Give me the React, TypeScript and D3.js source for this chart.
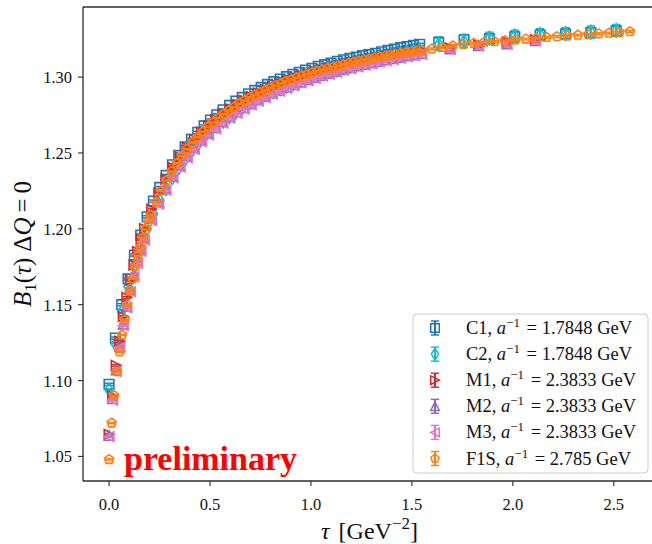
import React from 'react';
import * as d3 from 'd3';

const W = 652;
const H = 544;

const X_TICKS = [0, 0.5, 1.0, 1.5, 2.0, 2.5];
const Y_TICKS = [1.05, 1.1, 1.15, 1.2, 1.25, 1.3];

const SERIES_NAMES = ['C1', 'C2', 'M1', 'M2', 'M3', 'F1S'];
const INV_SPACING = ['1.7848', '1.7848', '2.3833', '2.3833', '2.3833', '2.785'];

const C_TAU = [0, 0.0314, 0.0628, 0.0942, 0.1256, 0.157, 0.1884, 0.2198, 0.2512, 0.2826, 0.314, 0.3454, 0.3768, 0.4082, 0.4396, 0.471, 0.5024, 0.5338, 0.5652, 0.5966, 0.628, 0.6594, 0.6908, 0.7222, 0.7536, 0.785, 0.8164, 0.8478, 0.8792, 0.9106, 0.942, 0.9734, 1.0048, 1.0362, 1.0676, 1.099, 1.1304, 1.1618, 1.1932, 1.2246, 1.256, 1.2874, 1.3188, 1.3502, 1.3816, 1.413, 1.4444, 1.4758, 1.5072, 1.5386, 1.6328, 1.7584, 1.884, 2.0096, 2.1352, 2.2608, 2.3864, 2.512];

const C1_VAL = [1.0975, 1.128, 1.150, 1.167, 1.1827, 1.1959, 1.2079, 1.2183, 1.2273, 1.2352, 1.2422, 1.2484, 1.2541, 1.259, 1.2636, 1.2678, 1.2717, 1.2752, 1.2784, 1.2813, 1.2841, 1.2866, 1.289, 1.2912, 1.2932, 1.2952, 1.297, 1.2987, 1.3003, 1.3018, 1.3032, 1.3046, 1.3058, 1.3071, 1.3082, 1.3093, 1.3104, 1.3114, 1.3123, 1.3132, 1.3141, 1.3149, 1.3157, 1.3167, 1.3176, 1.3185, 1.3194, 1.3201, 1.3209, 1.3216, 1.3229, 1.3246, 1.3252, 1.3266, 1.3277, 1.3284, 1.3294, 1.3304];

const C2_VAL = [1.094, 1.124, 1.1455, 1.162, 1.1757, 1.1879, 1.1999, 1.2098, 1.2188, 1.2265, 1.2337, 1.2401, 1.2459, 1.251, 1.2556, 1.26, 1.2641, 1.2677, 1.271, 1.274, 1.2769, 1.2796, 1.282, 1.2844, 1.2865, 1.2886, 1.2905, 1.2923, 1.294, 1.2956, 1.2972, 1.2986, 1.3, 1.3014, 1.3026, 1.3038, 1.305, 1.3062, 1.3073, 1.3084, 1.3095, 1.3105, 1.3115, 1.3125, 1.3135, 1.3144, 1.3153, 1.3161, 1.3169, 1.3178, 1.3215, 1.3235, 1.3256, 1.327, 1.328, 1.3287, 1.3297, 1.3307];

const M_TAU = [0, 0.0176, 0.0352, 0.0528, 0.0704, 0.088, 0.1056, 0.1232, 0.1408, 0.1584, 0.176, 0.2112, 0.2464, 0.2816, 0.3168, 0.352, 0.3872, 0.4224, 0.4576, 0.4928, 0.528, 0.5632, 0.5984, 0.6336, 0.6688, 0.704, 0.7392, 0.7744, 0.8096, 0.8448, 0.88, 0.9152, 0.9504, 0.9856, 1.0208, 1.056, 1.0912, 1.1264, 1.1616, 1.1968, 1.232, 1.2672, 1.3024, 1.3376, 1.3728, 1.408, 1.4432, 1.4784, 1.5136, 1.5488, 1.6896, 1.8304, 1.9712, 2.112];

const M1_VAL = [1.0645, 1.09, 1.11, 1.126, 1.1422, 1.1549, 1.1662, 1.1761, 1.185, 1.193, 1.2002, 1.213, 1.2237, 1.2328, 1.2405, 1.2474, 1.2536, 1.2589, 1.2638, 1.2681, 1.272, 1.2757, 1.279, 1.2819, 1.2847, 1.2873, 1.2896, 1.2918, 1.2939, 1.2958, 1.2975, 1.2992, 1.3008, 1.3022, 1.3036, 1.3048, 1.306, 1.3071, 1.3083, 1.3093, 1.3103, 1.3112, 1.3121, 1.313, 1.3139, 1.3147, 1.3154, 1.3161, 1.3168, 1.3175, 1.3193, 1.3213, 1.3232, 1.3248];

const M2_VAL = [1.0638, 1.088, 1.107, 1.1225, 1.1372, 1.1489, 1.1602, 1.1701, 1.179, 1.187, 1.1942, 1.207, 1.2177, 1.2269, 1.2348, 1.2419, 1.2481, 1.2536, 1.2586, 1.263, 1.267, 1.2707, 1.274, 1.277, 1.2798, 1.2824, 1.2849, 1.2872, 1.2894, 1.2914, 1.2933, 1.295, 1.2967, 1.2983, 1.2998, 1.3012, 1.3025, 1.3038, 1.3051, 1.3062, 1.3073, 1.3084, 1.3093, 1.3103, 1.3113, 1.3122, 1.313, 1.3139, 1.3147, 1.3155, 1.3186, 1.3207, 1.3219, 1.324];

const M3_VAL = [1.063, 1.087, 1.106, 1.1215, 1.1362, 1.1479, 1.1587, 1.1683, 1.1772, 1.1852, 1.1925, 1.2054, 1.2162, 1.2255, 1.2335, 1.2406, 1.2468, 1.2524, 1.2574, 1.2619, 1.2659, 1.2697, 1.273, 1.2761, 1.279, 1.2817, 1.2842, 1.2865, 1.2887, 1.2907, 1.2926, 1.2944, 1.2961, 1.2977, 1.2992, 1.3006, 1.3019, 1.3032, 1.3045, 1.3056, 1.3067, 1.3078, 1.3088, 1.3098, 1.3108, 1.3117, 1.3125, 1.3134, 1.3142, 1.315, 1.3182, 1.3205, 1.3216, 1.3238];

const F1S_TAU = [0, 0.0129, 0.0258, 0.0387, 0.0516, 0.0645, 0.0774, 0.0903, 0.1032, 0.1161, 0.129, 0.1419, 0.1548, 0.1677, 0.1806, 0.1935, 0.2064, 0.2322, 0.258, 0.2838, 0.3096, 0.3354, 0.3612, 0.387, 0.4128, 0.4386, 0.4644, 0.4902, 0.516, 0.5418, 0.5676, 0.5934, 0.6192, 0.645, 0.6708, 0.6966, 0.7224, 0.7482, 0.774, 0.7998, 0.8256, 0.8514, 0.8772, 0.903, 0.9288, 0.9546, 0.9804, 1.0062, 1.032, 1.0578, 1.0836, 1.1094, 1.1352, 1.161, 1.1868, 1.2126, 1.2384, 1.2642, 1.29, 1.3158, 1.3416, 1.3674, 1.3932, 1.419, 1.4448, 1.4706, 1.4964, 1.5222, 1.548, 1.5996, 1.6512, 1.7028, 1.7544, 1.806, 1.8576, 1.9092, 1.9608, 2.0124, 2.064, 2.1156, 2.1672, 2.2188, 2.2704, 2.322, 2.3736, 2.4252, 2.4768, 2.5284, 2.58];

const F1S_VAL = [1.048, 1.072, 1.09, 1.106, 1.119, 1.13, 1.14, 1.15, 1.159, 1.167, 1.175, 1.182, 1.188, 1.194, 1.1995, 1.2045, 1.209, 1.2177, 1.2251, 1.2318, 1.2378, 1.2432, 1.2481, 1.2526, 1.2567, 1.2605, 1.264, 1.2672, 1.2702, 1.273, 1.2756, 1.278, 1.2803, 1.2825, 1.2845, 1.2864, 1.2882, 1.2899, 1.2915, 1.293, 1.2945, 1.2958, 1.2972, 1.2984, 1.2996, 1.3008, 1.3018, 1.3029, 1.3039, 1.3049, 1.3058, 1.3067, 1.3075, 1.3083, 1.3091, 1.3099, 1.3106, 1.3113, 1.312, 1.3127, 1.3133, 1.3139, 1.3145, 1.3151, 1.3157, 1.3162, 1.3167, 1.3172, 1.3177, 1.3186, 1.3196, 1.3206, 1.3216, 1.3223, 1.3229, 1.3234, 1.324, 1.3246, 1.3251, 1.3256, 1.3262, 1.3267, 1.3272, 1.3277, 1.3281, 1.3286, 1.329, 1.3295, 1.33];

// statistical errors: [fine-step region, coarse-step region]
const C1_ERR = [0.0007, 0.0035];
const C2_ERR = [0.0007, 0.004];
const M1_ERR = [0.0006, 0.002];
const M2_ERR = [0.0006, 0.002];
const M3_ERR = [0.0006, 0.002];
const F1S_ERR = [0.0004, 0.0006];

const COLORS = ['#1f77b4', '#17becf', '#d62728', '#9467bd', '#e377c2', '#ff7f0e'];
const MARKERS = ['s', 'd', '>', '^', '<', 'p'];

const SERIES = [
  { tau: C_TAU, val: C1_VAL, err: C1_ERR },
  { tau: C_TAU, val: C2_VAL, err: C2_ERR },
  { tau: M_TAU, val: M1_VAL, err: M1_ERR },
  { tau: M_TAU, val: M2_VAL, err: M2_ERR },
  { tau: M_TAU, val: M3_VAL, err: M3_ERR },
  { tau: F1S_TAU, val: F1S_VAL, err: F1S_ERR },
].map((s, i) => ({ ...s, name: SERIES_NAMES[i], inv: INV_SPACING[i], color: COLORS[i], marker: MARKERS[i] }));

const MS = 9.6;

function markerPath(kind: string, s: number): string {
  const h = s / 2;
  switch (kind) {
    case 's':
      return `M${-h},${-h}H${h}V${h}H${-h}Z`;
    case 'd': {
      const hy = 0.7071 * s;
      const hx = 0.6 * hy;
      return `M0,${-hy}L${hx},0L0,${hy}L${-hx},0Z`;
    }
    case '^':
      return `M0,${-h}L${h},${h}L${-h},${h}Z`;
    case '>':
      return `M${h},0L${-h},${-h}L${-h},${h}Z`;
    case '<':
      return `M${-h},0L${h},${-h}L${h},${h}Z`;
    case 'p': {
      const pts = d3.range(5).map((k) => {
        const a = (-90 + 72 * k) * Math.PI / 180;
        return [h * Math.cos(a), h * Math.sin(a)];
      });
      return 'M' + pts.map((p) => `${p[0].toFixed(2)},${p[1].toFixed(2)}`).join('L') + 'Z';
    }
    default:
      return '';
  }
}

export default function App() {
  const L = 83, R = 656, T = 7, B = 481;
  const x = d3.scaleLinear().domain([-0.129, 2.709]).range([L, R]);
  const y = d3.scaleLinear().domain([1.0338, 1.3462]).range([B, T]);
  const axisColor = '#2b2b2b';
  const CAP = 4.2;
  const SW = 1.6;
  const font = "'Liberation Serif', 'Times New Roman', serif";

  return (
    <svg width={W} height={H} viewBox={`0 0 ${W} ${H}`} style={{ position: 'absolute', left: 0, top: 0, background: '#fff' }} fontFamily={font}>
      <defs>
        <clipPath id="plotclip">
          <rect x={L} y={T} width={R - L} height={B - T} />
        </clipPath>
      </defs>
      <rect x={0} y={0} width={W} height={H} fill="#fff" />

      <g clipPath="url(#plotclip)">
        {SERIES.map((s, si) => {
          const n = Math.min(s.tau.length, s.val.length);
          return (
            <g key={si}>
              {d3.range(n).map((i) => {
                const t = s.tau[i];
                const v = s.val[i];
                const e = t > 1.56 ? s.err[1] : s.err[0];
                const cx = x(t);
                const cy = y(v);
                const y0 = y(v - e);
                const y1 = y(v + e);
                return (
                  <g key={i}>
                    <line x1={cx} x2={cx} y1={y0} y2={y1} stroke={s.color} strokeWidth={2} />
                    <line x1={cx - CAP} x2={cx + CAP} y1={y0} y2={y0} stroke={s.color} strokeWidth={1.4} />
                    <line x1={cx - CAP} x2={cx + CAP} y1={y1} y2={y1} stroke={s.color} strokeWidth={1.4} />
                    <path d={markerPath(s.marker, MS)} transform={`translate(${cx},${cy})`} fill="none" stroke={s.color} strokeWidth={SW} />
                  </g>
                );
              })}
            </g>
          );
        })}
      </g>

      {/* preliminary */}
      <text x={124} y={470} fill="#ff0000" fontWeight="bold" fontSize={33} textLength={173} lengthAdjust="spacingAndGlyphs">preliminary</text>

      {/* legend */}
      <g>
        <rect x={413} y={314} width={235} height={159} rx={4} ry={4} fill="#fff" fillOpacity={0.8} stroke="#cccccc" strokeWidth={1} />
        {SERIES.map((s, i) => {
          const cy = 328 + i * 26.1;
          const mx = 435;
          return (
            <g key={i}>
              <line x1={mx} x2={mx} y1={cy - 7} y2={cy + 7} stroke={s.color} strokeWidth={2} />
              <line x1={mx - CAP} x2={mx + CAP} y1={cy - 7} y2={cy - 7} stroke={s.color} strokeWidth={1.4} />
              <line x1={mx - CAP} x2={mx + CAP} y1={cy + 7} y2={cy + 7} stroke={s.color} strokeWidth={1.4} />
              <path d={markerPath(s.marker, 8.6)} transform={`translate(${mx},${cy})`} fill="none" stroke={s.color} strokeWidth={1.5} />
              <text x={466} y={cy + 6} fontSize={18.5} fill="#111">
                <tspan>{s.name}, </tspan>
                <tspan fontStyle="italic">a</tspan>
                <tspan dy={-7} fontSize={13}>−1</tspan>
                <tspan dy={7} dx={2}> = {s.inv} GeV</tspan>
              </text>
            </g>
          );
        })}
      </g>

      {/* axes spines */}
      <line x1={L} x2={L} y1={T} y2={B} stroke={axisColor} strokeWidth={1.3} />
      <line x1={L} x2={R} y1={B} y2={B} stroke={axisColor} strokeWidth={1.3} />
      <line x1={L} x2={R} y1={T} y2={T} stroke={axisColor} strokeWidth={1.3} />
      <line x1={R} x2={R} y1={T} y2={B} stroke={axisColor} strokeWidth={1.3} />

      {/* x ticks */}
      {X_TICKS.map((t) => (
        <g key={t}>
          <line x1={x(t)} x2={x(t)} y1={B} y2={B + 5} stroke={axisColor} strokeWidth={1.1} />
          <text x={x(t)} y={510} textAnchor="middle" fontSize={16.5} fill="#111">{d3.format('.1f')(t)}</text>
        </g>
      ))}

      {/* y ticks */}
      {Y_TICKS.map((t) => (
        <g key={t}>
          <line x1={L - 5} x2={L} y1={y(t)} y2={y(t)} stroke={axisColor} strokeWidth={1.1} />
          <text x={72} y={y(t) + 6} textAnchor="end" fontSize={16.5} fill="#111">{d3.format('.2f')(t)}</text>
        </g>
      ))}

      {/* x label */}
      <text x={(L + R) / 2} y={539} textAnchor="middle" fontSize={24} fill="#111">
        <tspan fontStyle="italic">τ</tspan>
        <tspan dx={3}> [GeV</tspan>
        <tspan dy={-10} fontSize={17}>−2</tspan>
        <tspan dy={10}>]</tspan>
      </text>

      {/* y label */}
      <text transform={`translate(31,244) rotate(-90)`} textAnchor="middle" fontSize={25} fill="#111">
        <tspan fontStyle="italic">B</tspan>
        <tspan dy={5} fontSize={17}>1</tspan>
        <tspan dy={-5}>(</tspan>
        <tspan fontStyle="italic">τ</tspan>
        <tspan>)</tspan>
        <tspan dx={6}>Δ</tspan>
        <tspan fontStyle="italic">Q</tspan>
        <tspan dx={5}>=</tspan>
        <tspan dx={5}>0</tspan>
      </text>
    </svg>
  );
}
